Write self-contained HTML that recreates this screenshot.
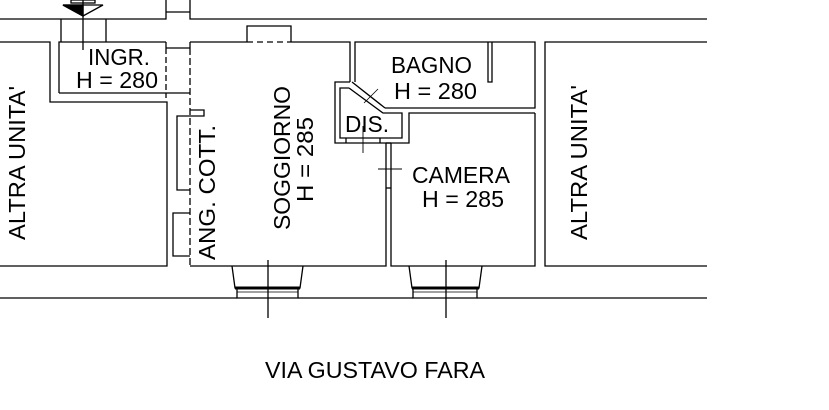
<!DOCTYPE html>
<html><head><meta charset="utf-8"><style>
html,body{margin:0;padding:0;background:#fff;}
svg{display:block;}
text{font-family:"Liberation Sans",sans-serif;fill:#000;}
</style></head><body>
<svg width="829" height="410" viewBox="0 0 829 410" xmlns="http://www.w3.org/2000/svg">
<g stroke="#000" stroke-width="1.3" fill="none">
<polyline points="0,19 166,19 166,0"/>
<polyline points="707,19 190,19 190,0"/>
<line x1="166" y1="12" x2="190" y2="12"/>
<line x1="61" y1="19" x2="61" y2="42"/>
<line x1="106" y1="19" x2="106" y2="42"/>
<line x1="83" y1="0" x2="83" y2="50"/>
<rect x="71" y="0" width="24" height="3"/>
<polygon points="63,5 103,5 83,16"/>
<polygon points="63,5 83,5 83,16" fill="#000"/>
<polyline points="0,42 50,42 50,102 167,102 167,266 0,266"/>
<polyline points="59,93 59,42 166,42"/>
<line x1="59" y1="93" x2="190" y2="93"/>
<line x1="166" y1="42" x2="166" y2="48"/>
<line x1="166" y1="48" x2="190" y2="48"/>
<line x1="166" y1="48" x2="166" y2="98" stroke-dasharray="6,3"/>
<polyline points="190,42 247,42"/>
<line x1="247" y1="42" x2="291" y2="42" stroke-dasharray="6,4"/>
<polyline points="247,42 247,26 291,26 291,42"/>
<polyline points="291,42 350,42 350,82"/>
<line x1="190" y1="42" x2="190" y2="48"/>
<line x1="190" y1="48" x2="190" y2="266" stroke-dasharray="7,3"/>
<polyline points="190,266 386,266 386,143"/>
<polyline points="190,116 177,116 177,190 190,190"/>
<polyline points="190,110 204,110 204,116 190,116"/>
<polyline points="190,213 173,213 173,256 190,256"/>
<polyline points="355,82 355,42 535,42 535,108 385,108"/>
<polyline points="488,42 488,82 492,82 492,42"/>
<polyline points="350,82 335,82 335,143 409,143 409,113 535,113"/>
<polyline points="352,82 385,108"/>
<polyline points="349,88 340,88 340,138 402,138 402,113 383,113 349,88"/>
<line x1="346" y1="138" x2="346" y2="143"/>
<line x1="380" y1="138" x2="380" y2="143"/>
<line x1="364" y1="103" x2="378" y2="89" stroke-width="0.8"/>
<line x1="362" y1="90" x2="380" y2="104" stroke-width="0.8"/>
<line x1="363" y1="126" x2="363" y2="153" stroke-width="0.9"/>
<polyline points="391,143 391,266 535,266 535,113"/>
<line x1="386" y1="143" x2="391" y2="143"/>
<line x1="386" y1="188" x2="391" y2="188"/>
<line x1="378" y1="169" x2="402" y2="169" stroke-width="0.9"/>
<polyline points="707,42 545,42 545,266 707,266"/>
<line x1="0" y1="298" x2="237" y2="298"/>
<line x1="298" y1="298" x2="413" y2="298"/>
<line x1="477" y1="298" x2="707" y2="298"/>
<polyline points="232,266 235,288 300,288 303,266"/>
<polyline points="237,288 237,298 298,298 298,288"/>
<line x1="235" y1="288" x2="300" y2="288" stroke-width="3"/>
<line x1="237" y1="292" x2="298" y2="292" stroke-width="0.8"/>
<line x1="268" y1="260" x2="268" y2="318"/>
<polyline points="409,266 412,288 479,288 482,266"/>
<polyline points="413,288 413,298 477,298 477,288"/>
<line x1="412" y1="288" x2="479" y2="288" stroke-width="3"/>
<line x1="413" y1="292" x2="477" y2="292" stroke-width="0.8"/>
<line x1="446" y1="260" x2="446" y2="318"/>
</g>
<g font-size="23">
<text x="88" y="65" textLength="62" lengthAdjust="spacingAndGlyphs">INGR.</text>
<text x="76" y="88" textLength="82" lengthAdjust="spacingAndGlyphs">H = 280</text>
<text x="391" y="73" textLength="81" lengthAdjust="spacingAndGlyphs">BAGNO</text>
<text x="394" y="99" textLength="83" lengthAdjust="spacingAndGlyphs">H = 280</text>
<text x="345" y="132" textLength="44" lengthAdjust="spacingAndGlyphs">DIS.</text>
<text x="412" y="183" textLength="98" lengthAdjust="spacingAndGlyphs">CAMERA</text>
<text x="422" y="207" textLength="82" lengthAdjust="spacingAndGlyphs">H = 285</text>
<text transform="translate(25,240) rotate(-90)" textLength="154" lengthAdjust="spacingAndGlyphs">ALTRA UNITA'</text>
<text transform="translate(215,260) rotate(-90)" textLength="135" lengthAdjust="spacingAndGlyphs">ANG. COTT.</text>
<text transform="translate(290,230) rotate(-90)" textLength="144" lengthAdjust="spacingAndGlyphs">SOGGIORNO</text>
<text transform="translate(313,202) rotate(-90)" textLength="85" lengthAdjust="spacingAndGlyphs">H = 285</text>
<text transform="translate(587,240) rotate(-90)" textLength="155" lengthAdjust="spacingAndGlyphs">ALTRA UNITA'</text>
<text x="265" y="378" textLength="220" lengthAdjust="spacingAndGlyphs">VIA GUSTAVO FARA</text>
</g>
</svg>
</body></html>
